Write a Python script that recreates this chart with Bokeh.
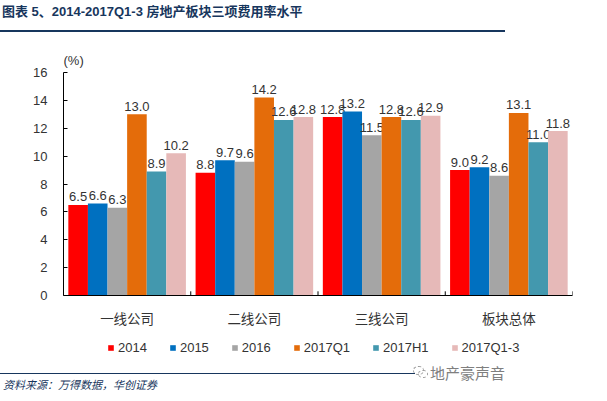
from bokeh.plotting import figure
from bokeh.models import (ColumnDataSource, FactorRange, Range1d, LinearAxis, CategoricalAxis,
                          FixedTicker, Legend, LegendItem, Div)
from bokeh.transform import dodge
from bokeh.layouts import column
from bokeh.core.properties import value
from bokeh.embed import file_html
from bokeh.resources import INLINE

# ---------------- data ----------------
categories = ["一线公司", "二线公司", "三线公司", "板块总体"]
series_names = ["2014", "2015", "2016", "2017Q1", "2017H1", "2017Q1-3"]
v2014 = [6.5, 8.8, 12.8, 9.0]
v2015 = [6.6, 9.7, 13.2, 9.2]
v2016 = [6.3, 9.6, 11.5, 8.6]
v2017q1 = [13.0, 14.2, 12.8, 13.1]
v2017h1 = [8.9, 12.6, 12.6, 11.0]
v2017q13 = [10.2, 12.8, 12.9, 11.8]
series_values = [v2014, v2015, v2016, v2017q1, v2017h1, v2017q13]
y_ticks = [0, 2, 4, 6, 8, 10, 12, 14, 16]

title_text = "图表 5、2014-2017Q1-3 房地产板块三项费用率水平"
unit_text = "(%)"
source_text = "资料来源：万得数据，华创证券"
watermark_text = "地产豪声音"

colors = ["#FF0000", "#0070C0", "#A5A5A5", "#E46C0A", "#4398AE", "#E6B9B8"]
navy = "#17365D"
txt = "#333333"
NUM = "Liberation Sans"
CJK = "Noto Sans CJK SC"

W = 591
BL, BR = 63, 19   # frame borders shared by the stacked figures

# ---------------- header (title + rule) ----------------
header_html = (
    f'<div style="position:relative;width:{W}px;height:40px;">'
    f'<div style="position:absolute;left:2px;top:4px;white-space:nowrap;'
    f"font-family:'Liberation Sans','Noto Sans CJK SC',sans-serif;font-weight:bold;"
    f'font-size:13px;line-height:16px;color:{navy};">{title_text}</div>'
    f'<div style="position:absolute;left:0px;top:30px;width:505px;height:0px;'
    f'border-top:2px solid {navy};"></div></div>'
)
header = Div(text=header_html, width=W, height=40, margin=(0, 0, 0, 0))

# ---------------- main chart ----------------
data = {"cat": categories}
for i, vals in enumerate(series_values):
    data[f"s{i}"] = vals
    data[f"l{i}"] = [f"{v:.1f}" for v in vals]
src = ColumnDataSource(data)

p = figure(width=W, height=290, x_range=FactorRange(factors=categories, range_padding=0),
           y_range=Range1d(0, 16), output_backend="svg", toolbar_location=None,
           x_axis_location=None, y_axis_location=None, title=unit_text,
           min_border_left=BL, min_border_right=BR, min_border_top=32, min_border_bottom=35)
p.grid.visible = False
p.outline_line_color = None
p.title.align = "left"
p.title.text_font = NUM
p.title.text_font_size = "13px"
p.title.text_font_style = "normal"
p.title.text_color = txt
p.title.standoff = 9
p.title.offset = 0

bw = 0.154
renderers = []
for i, name in enumerate(series_names):
    off = (i - 2.5) * bw
    r = p.vbar(x=dodge("cat", off, range=p.x_range), top=f"s{i}", width=bw, source=src,
               fill_color=colors[i], line_color=None)
    p.text(x=dodge("cat", off, range=p.x_range), y=f"s{i}", text=f"l{i}", source=src,
           text_font=value(NUM), text_font_size="13px", text_color=txt,
           text_align="center", text_baseline="alphabetic", y_offset=-8)
    renderers.append(r)

# category separator ticks (pointing inward, at the right edge of each category)
p.segment(x0=dodge("cat", 0.5, range=p.x_range), x1=dodge("cat", 0.5, range=p.x_range),
          y0=0, y1=0.3, source=src, line_color="#000000", line_width=1)

yaxis = LinearAxis(ticker=FixedTicker(ticks=y_ticks), major_tick_in=4, major_tick_out=0,
                   minor_tick_line_color=None, major_label_standoff=16,
                   major_label_text_font=NUM, major_label_text_font_size="13px",
                   major_label_text_color=txt, axis_line_color="#000000",
                   major_tick_line_color="#000000")
p.add_layout(yaxis, "left")

cat_axis = CategoricalAxis(major_tick_line_color=None, major_tick_in=0, major_tick_out=0,
                           axis_line_color="#000000", minor_tick_line_color=None,
                           major_label_standoff=12,
                           major_label_text_font=CJK, major_label_text_font_size="13.5px",
                           major_label_text_color=txt)
p.add_layout(cat_axis, "below")

# ---------------- legend strip ----------------
lg = figure(width=W, height=30, x_range=Range1d(0, 1), y_range=Range1d(0, 1),
            output_backend="svg", toolbar_location=None, x_axis_location=None,
            y_axis_location=None, min_border_left=BL, min_border_right=BR,
            min_border_top=0, min_border_bottom=0, outline_line_color=None)
lg.grid.visible = False
lg.background_fill_color = None
lg.border_fill_color = None
items = []
for i, name in enumerate(series_names):
    rr = lg.vbar(x=[0], top=[0], width=0, fill_color=colors[i], line_color=None)
    items.append(LegendItem(label=name, renderers=[rr]))
legend = Legend(items=items, orientation="horizontal", location=(44, 5),
                glyph_width=7, glyph_height=7, label_standoff=4, spacing=22,
                padding=0, margin=0, border_line_color=None, background_fill_alpha=0,
                label_text_font=NUM, label_text_font_size="13px", label_text_color=txt,
                label_height=14)
lg.add_layout(legend, "center")

# ---------------- footer (rule, source, watermark) ----------------
footer_html = (
    f'<div style="position:relative;width:{W}px;height:33px;">'
    f'<div style="position:absolute;left:0px;top:13px;width:415px;height:0px;'
    f'border-top:1.3px solid {navy};"></div>'
    f'<div style="position:absolute;left:3px;top:17px;white-space:nowrap;'
    f"font-family:'Noto Sans CJK SC',sans-serif;font-style:italic;font-size:11px;"
    f'line-height:14px;color:{navy};">{source_text}</div>'
    f'<div style="position:absolute;left:413px;top:6px;width:11px;height:9px;'
    f'border:1px dashed #9a9a9a;border-radius:50%;"></div>'
    f'<div style="position:absolute;left:418px;top:10px;width:10px;height:8px;'
    f'border:1px dashed #9a9a9a;border-radius:50%;"></div>'
    f'<div style="position:absolute;left:430px;top:4px;white-space:nowrap;'
    f"font-family:'Noto Sans CJK SC',sans-serif;font-size:15px;line-height:18px;"
    f'color:#7f7f7f;">{watermark_text}</div></div>'
)
footer = Div(text=footer_html, width=W, height=33, margin=(0, 0, 0, 0))

layout = column(header, p, lg, footer)
open("out.html", "w").write(file_html(layout, INLINE))
